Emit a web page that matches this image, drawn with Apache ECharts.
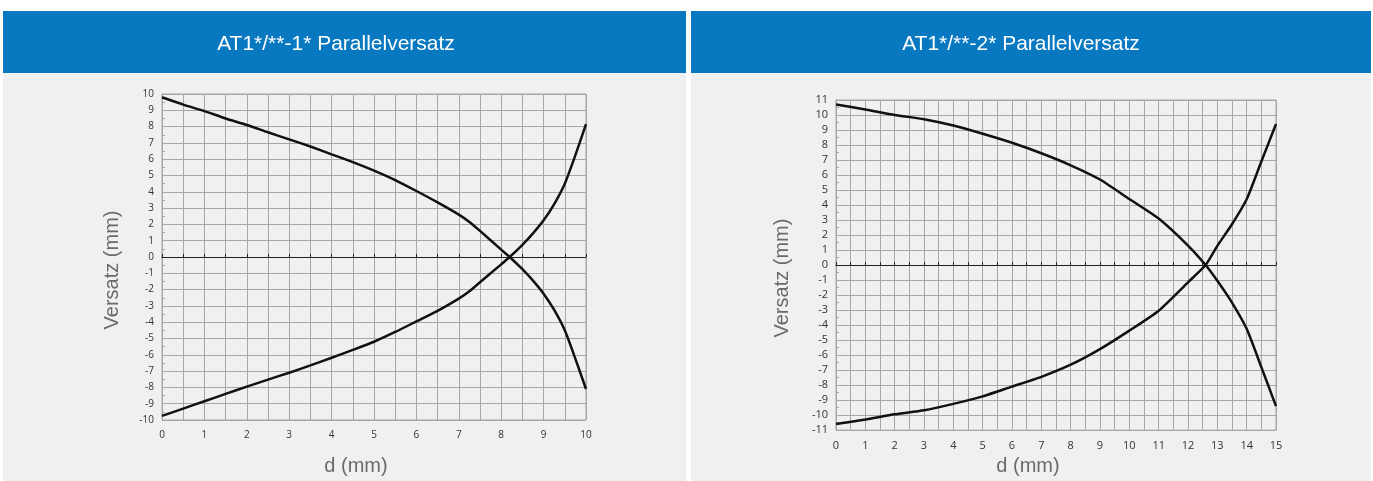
<!DOCTYPE html>
<html>
<head>
<meta charset="utf-8">
<script src="https://cdn.jsdelivr.net/npm/echarts@6/dist/echarts.min.js"></script>
<style>
html,body{margin:0;padding:0;background:#ffffff;}
#chart{width:1373px;height:481px;}
</style>
</head>
<body>
<div id="chart"></div>
<script>
// ---- Data ----
const titles = ['AT1*/**-1* Parallelversatz', 'AT1*/**-2* Parallelversatz'];
const xName = 'd (mm)';
const yName = 'Versatz (mm)';

const leftD = [0,0.5,1,1.5,2,2.5,3,3.5,4,4.5,5,5.5,6,6.5,7,7.25,7.5,8,8.2,8.5,8.75,9,9.25,9.5,9.75,10];
const leftUpper = [9.8,9.35,8.95,8.5,8.1,7.65,7.22,6.78,6.3,5.82,5.3,4.72,4.05,3.35,2.6,2.15,1.6,0.45,0,-0.75,-1.45,-2.25,-3.25,-4.5,-6.25,-8.1];
const leftLower = [-9.75,-9.3,-8.85,-8.4,-7.95,-7.52,-7.1,-6.65,-6.18,-5.7,-5.2,-4.6,-3.95,-3.3,-2.55,-2.1,-1.55,-0.45,0,0.75,1.45,2.25,3.25,4.5,6.25,8.15];

const rightD = [0,1,2,3,4,5,6,7,8,9,10,11,12,12.6,13,13.5,14,14.5,15];
const rightUpper = [10.7,10.37,10.0,9.72,9.3,8.75,8.15,7.45,6.65,5.7,4.4,3.1,1.3,0,-1.05,-2.5,-4.25,-6.8,-9.4];
const rightLower = [-10.6,-10.3,-9.95,-9.68,-9.25,-8.75,-8.1,-7.45,-6.64,-5.6,-4.37,-3.04,-1.15,0,1.28,2.72,4.38,6.9,9.4];

const leftXMax = 10, leftYMax = 10;
const rightXMax = 15, rightYMax = 11;

function pairs(xs, ys){ return xs.map((x,i)=>[x, ys[i]]); }

// ---- Styles ----
const gridColor = '#a7a7a7';
const headerBlue = '#0878c0';
const panelBg = '#eff0f2';
const labelFont = 'Open Sans';
const nameFont = 'Liberation Sans';
const nameColor = '#6a6a6a';

function xAxes(gi, max, fs, nameGap, namePadRight){
  return [
    {
      type:'value', gridIndex:gi, min:0, max:max, interval:1, position:'bottom',
      name:xName, nameLocation:'middle', nameGap:nameGap,
      nameTextStyle:{fontFamily:nameFont, fontSize:20, color:nameColor, padding:[0,namePadRight,0,0]},
      axisLine:{show:false, onZero:false},
      axisTick:{show:false},
      axisLabel:{fontFamily:labelFont, fontSize:fs, color:'#333', margin:10},
      splitLine:{show:true, lineStyle:{color:gridColor, width:1}},
      minorTick:{show:false, splitNumber:2},
      minorSplitLine:{show:true, lineStyle:{color:gridColor, width:1}}
    },
    {
      type:'value', gridIndex:gi, min:0, max:max, interval:0.5, position:'bottom',
      axisLine:{show:true, onZero:true, lineStyle:{color:'#222', width:1}},
      axisTick:{show:true, inside:true, length:3, lineStyle:{color:'#222'}},
      axisLabel:{show:false},
      splitLine:{show:false}
    }
  ];
}
function yAxis(gi, max, fs, nameGap){
  return {
    type:'value', gridIndex:gi, min:-max, max:max, interval:1,
    name:yName, nameLocation:'middle', nameGap:nameGap,
    nameTextStyle:{fontFamily:nameFont, fontSize:20, color:nameColor, padding:[0,26,0,0]},
    axisLine:{show:true, onZero:false, lineStyle:{color:gridColor}},
    axisTick:{show:false, inside:true},
    minorTick:{show:true, splitNumber:2, length:3, lineStyle:{color:gridColor}},
    axisLabel:{fontFamily:labelFont, fontSize:fs, color:'#333', margin:8},
    splitLine:{show:true, lineStyle:{color:gridColor, width:1}}
  };
}
function lineSeries(xi, yi, data){
  return {
    type:'line', xAxisIndex:xi, yAxisIndex:yi, data:data,
    showSymbol:false, smooth:0.2,
    lineStyle:{color:'#111', width:2.5}, silent:true, animation:false, z:5
  };
}

const chart = echarts.init(document.getElementById('chart'), null, {renderer:'canvas'});
chart.setOption({
  animation:false,
  backgroundColor:'#ffffff',
  graphic:[
    {type:'rect', z:-10, shape:{x:3, y:11, width:683, height:470}, style:{fill:panelBg}},
    {type:'rect', z:-10, shape:{x:691, y:11, width:680, height:470}, style:{fill:panelBg}},
    {type:'rect', z:-9, shape:{x:3, y:11, width:683, height:62}, style:{fill:headerBlue}},
    {type:'rect', z:-9, shape:{x:691, y:11, width:680, height:62}, style:{fill:headerBlue}}
  ],
  title:[
    {text:titles[0], left:336, top:34, textAlign:'center', padding:0,
     textStyle:{fontFamily:nameFont, fontSize:21, fontWeight:'normal', color:'#ffffff'}},
    {text:titles[1], left:1021, top:34, textAlign:'center', padding:0,
     textStyle:{fontFamily:nameFont, fontSize:21, fontWeight:'normal', color:'#ffffff'}}
  ],
  grid:[
    {left:162, top:94, width:424, height:326, show:true, borderColor:gridColor, borderWidth:1, backgroundColor:'transparent'},
    {left:836, top:100, width:440, height:331, show:true, borderColor:gridColor, borderWidth:1, backgroundColor:'transparent'}
  ],
  xAxis: xAxes(0, leftXMax, 10, 36, 36).concat(xAxes(1, rightXMax, 11, 25, 56)),
  yAxis:[yAxis(0, leftYMax, 10, 40), yAxis(1, rightYMax, 11, 44)],
  series:[
    lineSeries(0, 0, pairs(leftD, leftUpper)),
    lineSeries(0, 0, pairs(leftD, leftLower)),
    lineSeries(2, 1, pairs(rightD, rightUpper)),
    lineSeries(2, 1, pairs(rightD, rightLower))
  ]
});
</script>
</body>
</html>
